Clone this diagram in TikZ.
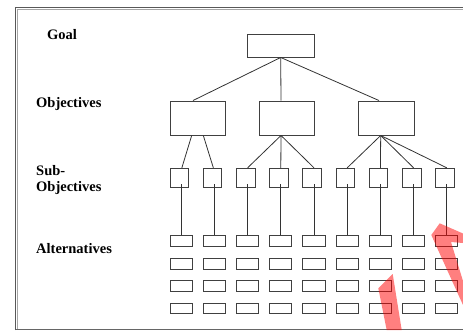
\documentclass[tikz,border=0pt]{standalone}
\usepackage{fontspec}
\setmainfont{Liberation Serif}
\begin{document}
\begin{tikzpicture}[x=1pt,y=-1pt,
  box/.style={draw=black!75,line width=0.95pt,inner sep=0pt,fill=white},
  goalbox/.style={box,minimum width=67pt,minimum height=23pt},
  objbox/.style={box,minimum width=55pt,minimum height=34pt},
  subbox/.style={box,minimum width=18.7pt,minimum height=19pt},
  altbox/.style={box,minimum width=22.3pt,minimum height=10.7pt},
  conn/.style={draw=black!80,line width=0.8pt},
  lbl/.style={font=\fontsize{14.5}{17}\selectfont\bfseries,inner sep=0pt,anchor=base west},
  redstroke/.style={fill=red,fill opacity=0.5,draw=none}]
\useasboundingbox (0,0) rectangle (463,330);
% frame
\draw[black!65,line width=1.1pt] (15.5,330) -- (15.5,7.5) -- (463,7.5);
\draw[black!35,line width=1.1pt] (17.3,328.5) -- (17.3,9.2) -- (463,9.2);
\draw[black!60,line width=1.1pt] (15.5,329.3) -- (463,329.3);
% labels
\node[lbl] (lg) at (47,39.3) {Goal};
\node[lbl] (lo) at (36,107.8) {Objectives};
\node[lbl] (ls) at (36,175) {Sub-};
\node[lbl] (ls2) at (36,191) {Objectives};
\node[lbl] (la) at (36,253.3) {Alternatives};
% goal and objectives
\node[goalbox] (g) at (280.7,45.5) {};
\node[objbox] (o1) at (197.5,118) {};
\node[objbox] (o2) at (286.5,118) {};
\node[objbox,minimum width=56pt] (o3) at (386,118) {};
% sub-objectives and alternatives
\foreach \i in {1,...,9}{
  \pgfmathsetmacro{\sx}{179.35+33.2*(\i-1)}
  \pgfmathsetmacro{\ax}{181.2+33.2*(\i-1)}
  \node[subbox] (s\i) at (\sx,177.8) {};
  \node[altbox] (a\i1) at (\ax,241.3) {};
  \node[altbox] (a\i2) at (\ax,263.7) {};
  \node[altbox] (a\i3) at (\ax,286.2) {};
  \node[altbox] (a\i4) at (\ax,308.5) {};
  \draw[conn] ([yshift=3.4pt]s\i.south -| a\i1.north) -- (a\i1.north);
}
% goal to objectives
\draw[conn] (g.south) -- ([xshift=-4.5pt]o1.north);
\draw[conn] (g.south) -- ([xshift=-5.5pt]o2.north);
\draw[conn] (g.south) -- ([xshift=-7pt]o3.north);
% objectives to sub-objectives
\draw[conn] ([xshift=-5.8pt]o1.south) -- ([xshift=2.5pt]s1.north);
\draw[conn] ([xshift=5.8pt]o1.south) -- ([xshift=0.8pt]s2.north);
\foreach \j in {3,4,5}{
  \draw[conn] ([xshift=-5.5pt]o2.south) -- (s\j.north -| a\j1.north);
}
\foreach \j in {6,7,8,9}{
  \draw[conn] ([xshift=-5.3pt]o3.south) -- (s\j.north -| a\j1.north);
}
% red overlay strokes
\fill[redstroke] (378.3,288.3) -- (392.7,274) -- (401.7,330) -- (386.7,330) -- cycle;
\fill[redstroke] (431.3,235) -- (439.7,223.3) -- (463,233.5) -- (463,243) -- (451,242) -- (463,281) -- (463,305) -- cycle;
\end{tikzpicture}
\end{document}
